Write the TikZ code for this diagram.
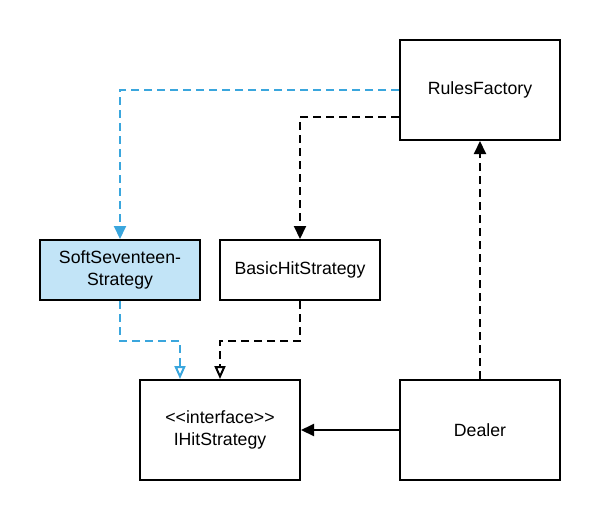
\documentclass[tikz,border=0pt]{standalone}
\usepackage{fontspec}
\setmainfont{Liberation Sans}
\usepackage{xcolor}
\usetikzlibrary{
    arrows.meta,
    calc,
    positioning
}
\definecolor{linkblue}{HTML}{3AA6DD}
\definecolor{boxblue}{HTML}{C2E4F7}

\begin{document}
\begin{tikzpicture}[x=1pt, y=-1pt,
        cls/.style={draw, line width=2pt, minimum width=160pt, align=center,
            font=\fontsize{17.7}{22}\selectfont},
        dep/.style={line width=2pt, dash pattern=on 8pt off 5pt},
        impl/.style={dep, -{Triangle[open, length=13pt, width=11pt]}},
        uses/.style={-{Triangle[length=13pt, width=12pt]}}]
                        \useasboundingbox (0, 0) rectangle (600, 520);
                        \node[cls, minimum height=100pt] (rf) at (480, 90) {RulesFactory};
                        \node[cls, minimum height=60pt, fill=boxblue] (soft) at (120, 270) {SoftSeventeen-\\Strategy};
                        \node[cls, minimum height=60pt] (basic) at (300, 270) {BasicHitStrategy};
                        \node[cls, minimum height=100pt] (ihit) at (220, 430) {<{}<interface>{}>\\IHitStrategy};
                        \node[cls, minimum height=100pt] (dealer) at (480, 430) {Dealer};

                        \draw[dep, uses, linkblue] (rf.west) -| (soft.north);
                        \draw[dep, uses] ([yshift=-27pt]rf.west) -| (basic.north);
                        \draw[dep, uses] (dealer.north) -- (rf.south);
                        \draw[line width=2pt, uses] (dealer.west) -- (ihit.east);
                        \draw[impl, linkblue] (soft.south) -- ++(0, 40) -| ([xshift=-40pt]ihit.north);
                        \draw[impl] (basic.south) -- ++(0, 40) -| (ihit.north);
                    \end{tikzpicture}
\end{document}
